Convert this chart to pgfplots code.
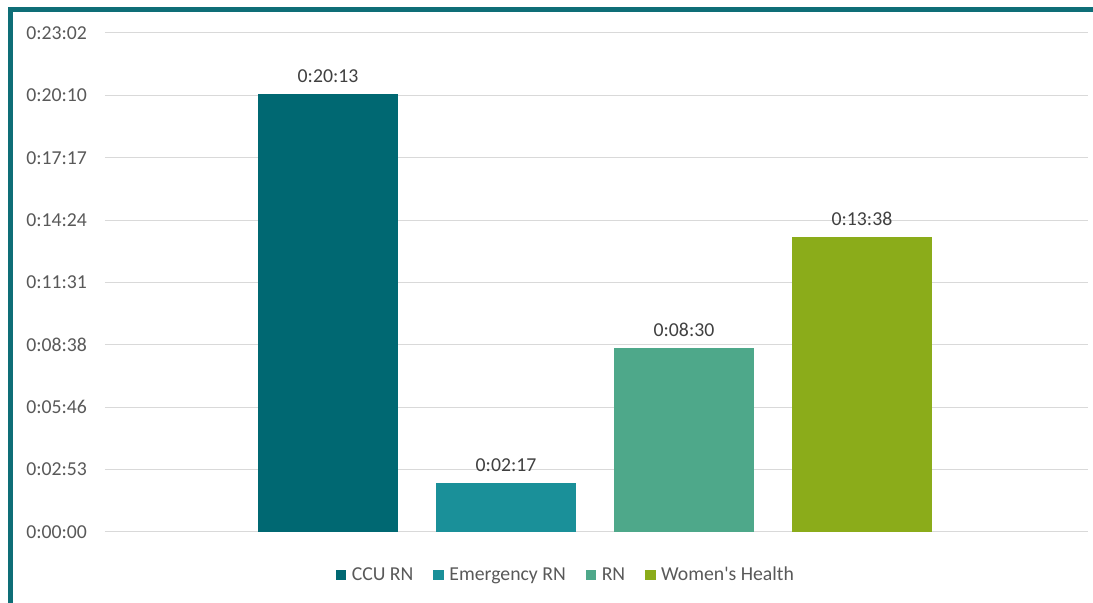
\documentclass[border=0pt]{standalone}
\usepackage{fontspec}
\setmainfont{Carlito}[Ligatures=TeXOff]
\usepackage{pgfplots}
\pgfplotsset{compat=1.18}

\definecolor{ccu}{HTML}{006872}
\definecolor{emerg}{HTML}{1A9099}
\definecolor{rn}{HTML}{4EA88A}
\definecolor{women}{HTML}{8BAC1A}
\definecolor{frame}{HTML}{0E6E77}
\definecolor{txt}{HTML}{595959}
\definecolor{gridc}{HTML}{D9D9D9}

\begin{document}
\begin{tikzpicture}
\fill[white] (0,0) rectangle (819.75pt,452.25pt);
% frame on left and top
\draw[frame, line width=3.75pt] (8.1pt,-2pt) -- (8.1pt,445.4pt) -- (822pt,445.4pt);

\begin{axis}[
    at={(78.75pt,53.25pt)}, anchor=south west,
    scale only axis,
    width=737.25pt, height=374.25pt,
    xmin=-1.253, xmax=4.27,
    ymin=0, ymax=1382.4,
    ytick={0,172.8,345.6,518.4,691.2,864,1036.8,1209.6,1382.4},
    yticklabels={0:00:00,0:02:53,0:05:46,0:08:38,0:11:31,0:14:24,0:17:17,0:20:10,0:23:02},
    xtick=\empty,
    ymajorgrids=true,
    grid style={gridc, line width=0.75pt},
    axis line style={draw=none},
    major tick length=0pt,
    ticklabel style={font=\fontsize{14.8}{17}\selectfont, text=txt},
    yticklabel style={anchor=east, xshift=-10pt},
    clip=false,
    legend style={
        at={(0.4685,-0.0862)}, anchor=center,
        draw=none, fill=none,
        legend columns=4,
        font=\fontsize{14.8}{17}\selectfont, text=txt,
        /tikz/every even column/.append style={column sep=14pt},
        /tikz/every odd column/.append style={column sep=3pt},
        nodes={inner sep=1pt},
    },
    legend image code/.code={\fill[#1] (0pt,-4pt) rectangle (8pt,4pt);},
    nodes near coords,
    point meta=explicit symbolic,
    every node near coord/.append style={font=\fontsize{14.8}{17}\selectfont, text=black!75, yshift=5pt},
]
\addplot[ybar, bar width=0.79, fill=ccu, draw=none] coordinates {(0,1213) [0:20:13]};
\addlegendentry{CCU RN}
\addplot[ybar, bar width=0.79, fill=emerg, draw=none] coordinates {(1,137) [0:02:17]};
\addlegendentry{Emergency RN}
\addplot[ybar, bar width=0.79, fill=rn, draw=none] coordinates {(2,510) [0:08:30]};
\addlegendentry{RN}
\addplot[ybar, bar width=0.79, fill=women, draw=none] coordinates {(3,818) [0:13:38]};
\addlegendentry{Women's Health}
\end{axis}
\pgfresetboundingbox
\useasboundingbox (0,0) rectangle (819.75pt,452.25pt);
\end{tikzpicture}
\end{document}
